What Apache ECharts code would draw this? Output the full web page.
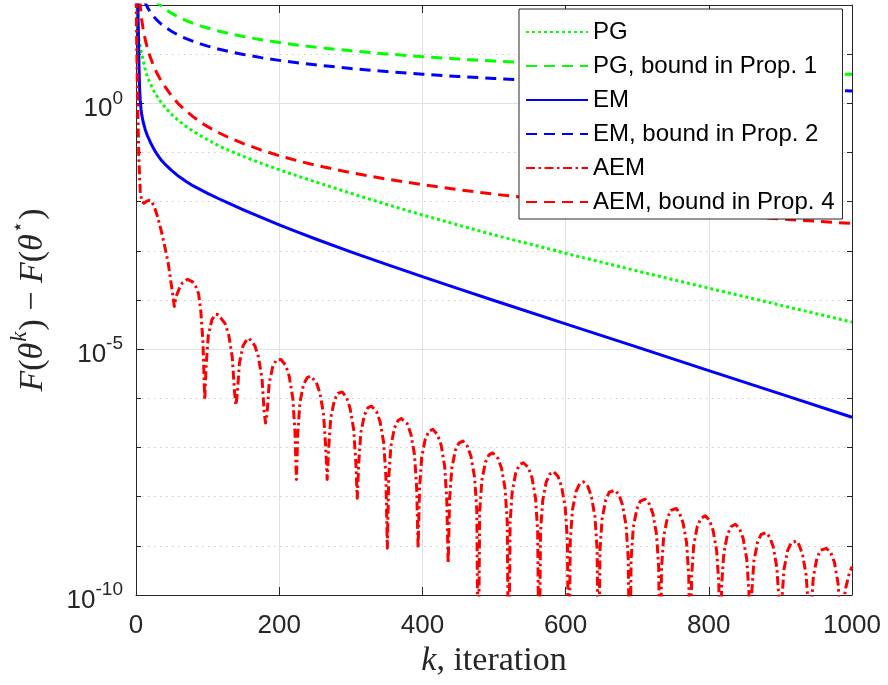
<!DOCTYPE html>
<html>
<head>
<meta charset="utf-8">
<title>Optimality gap versus iteration</title>
<script src="https://cdn.jsdelivr.net/npm/echarts@6/dist/echarts.min.js"></script>
<style>
  html, body { margin: 0; padding: 0; background: #ffffff; }
  #chart { width: 888px; height: 685px; }
</style>
</head>
<body>
<div id="chart"></div>
<script>
// ---- data -------------------------------------------------------------
// iteration numbers used by the smooth curves
const iterK = [1, 2, 3, 4, 5, 6, 7, 8, 10, 13, 16, 20, 25, 30, 35, 40, 50, 60, 70, 80, 90,
  100, 115, 130, 150, 175, 200, 225, 250, 300, 350, 400, 450, 500, 600, 700, 800, 900, 1000];

// proximal gradient: observed gap and theoretical bound
const pgGap = [200, 44.7, 28.2, 20.9, 16.6, 14.1, 12.0, 10.2, 7.59, 4.79, 3.39, 2.51, 1.78,
  1.35, 1.05, 0.851, 0.589, 0.437, 0.339, 0.269, 0.219, 0.182, 0.138, 0.110, 0.0832, 0.0603,
  0.0447, 0.0335, 0.0254, 0.0148, 8.81e-3, 5.37e-3, 3.35e-3, 2.11e-3, 8.91e-4, 3.89e-4,
  1.74e-4, 7.85e-5, 3.55e-5];
const pgBound = [3347, 1674, 1116, 837, 670, 558, 479, 419, 335, 258, 210, 168, 134, 112,
  96.1, 84.2, 67.5, 56.3, 48.3, 42.4, 37.7, 34.0, 29.6, 26.3, 22.8, 19.7, 17.3, 15.4, 13.9,
  11.7, 10.1, 8.9, 8.0, 7.23, 6.12, 5.32, 4.72, 4.26, 3.89];

// EM: observed gap and theoretical bound
const emGap = [1000, 251, 50.1, 7.94, 2.00, 1.12, 0.759, 0.589, 0.417, 0.288, 0.219, 0.162,
  0.117, 0.0891, 0.0708, 0.0589, 0.0427, 0.0324, 0.0257, 0.0209, 0.0176, 0.0148, 0.0116,
  9.23e-3, 6.84e-3, 4.79e-3, 3.39e-3, 2.43e-3, 1.76e-3, 9.55e-4, 5.31e-4, 2.99e-4, 1.70e-4,
  9.77e-5, 3.27e-5, 1.10e-5, 3.67e-6, 1.23e-6, 4.12e-7];
const emBound = [1425, 713, 475, 357, 285, 238, 204, 179, 143, 110, 89.4, 71.6, 57.4, 47.9,
  41.1, 36.0, 28.9, 24.1, 20.7, 18.2, 16.2, 14.6, 12.7, 11.3, 9.86, 8.50, 7.48, 6.69, 6.06,
  5.11, 4.43, 3.92, 3.52, 3.21, 2.73, 2.39, 2.14, 1.94, 1.78];

// accelerated EM: theoretical bound
const aemBound = [3600, 900, 400, 225, 144, 95, 68, 50, 32, 19.5, 13.0, 8.6, 5.6, 3.9, 2.9,
  2.25, 1.40, 0.95, 0.70, 0.53, 0.415, 0.335, 0.255, 0.200, 0.152, 0.112, 0.086, 0.0685,
  0.0553, 0.0388, 0.0288, 0.0222, 0.0176, 0.0142, 0.00993, 0.00732, 0.00562, 0.00445, 0.0036];

// accelerated EM: observed (oscillating) gap
const aemK = [0, 1, 2, 3, 4, 5, 6, 8, 11, 14, 18, 21, 25, 30, 35, 40, 45, 49, 51.5,
  53.5, 56, 60, 65, 72, 79, 84, 87.5, 90.5, 93.5,
  96, 98, 101, 106, 111, 115, 124.5, 129.5, 134.5, 137.5,
  139.5, 141.5, 144.5, 149.5, 154.5, 158, 166, 171, 176, 179,
  181, 183, 186, 191, 196, 202.5, 209, 214, 219, 222,
  224, 226, 229, 234, 239, 244, 252, 257, 262, 265,
  267, 269, 272, 277, 282, 288, 294, 299, 304, 307,
  309, 311, 314, 319, 324, 329, 336, 341, 346, 349,
  351, 353, 356, 361, 366, 370.5, 379, 384, 389, 392,
  394, 396, 399, 404, 409, 414.7, 421, 426, 431, 434,
  436, 438, 441, 446, 451, 456.5, 463, 468, 473, 476,
  478, 480, 483, 488, 493, 498, 505.5, 510.5, 515.5, 518.5,
  520.5, 522.5, 525.5, 530.5, 535.5, 541, 548, 553, 558, 561,
  563, 565, 568, 573, 578, 583.4, 589.5, 594.5, 599.5, 602.5,
  604.5, 606.5, 609.5, 614.5, 619.5, 625, 631, 636, 641, 644,
  646, 648, 651, 656, 661, 669, 674.5, 679.5, 684.5, 687.5,
  689.5, 691.5, 694.5, 699.5, 704.5, 711, 717, 722, 727, 730,
  732, 734, 737, 742, 747, 754.5, 759, 764, 769, 772,
  774, 776, 779, 784, 789, 795, 801, 806, 811, 814,
  816, 818, 821, 826, 831, 837, 843, 848, 853, 856,
  858, 860, 863, 868, 873, 880, 885, 890, 895, 898,
  900, 902, 905, 910, 915, 923, 926, 931, 936, 939,
  941, 943, 946, 951, 956, 964, 970.5, 975.5, 980.5, 983.5,
  985.5, 987.5, 990.5, 995.5, 1000];
const aemGap = [316, 15.8, 2.00, 0.316, 0.0794, 0.0316, 0.0158, 0.0100, 9.33e-3, 1.00e-2,
  1.07e-2, 1.05e-2, 8.32e-3, 5.01e-3, 2.63e-3, 1.26e-3, 5.62e-4, 2.19e-4, 1.26e-4,
  7.41e-5, 1.17e-4, 1.66e-4, 2.24e-4, 2.63e-4, 2.34e-4, 1.82e-4, 1.32e-4, 6.03e-5, 1.41e-5,
  9.12e-7, 4.79e-6, 1.91e-5, 3.98e-5, 5.13e-5, 5.01e-5, 3.31e-5, 1.95e-5, 6.76e-6, 1.41e-6,
  7.24e-7, 1.26e-6, 5.25e-6, 1.17e-5, 1.55e-5, 1.66e-5, 1.17e-5, 6.92e-6, 2.51e-6, 5.25e-7,
  3.16e-7, 4.79e-7, 2.00e-6, 4.47e-6, 6.03e-6, 6.17e-6, 4.68e-6, 2.82e-6, 1.00e-6, 2.14e-7,
  2.24e-8, 2.00e-7, 8.32e-7, 1.91e-6, 2.63e-6, 2.82e-6, 2.09e-6, 1.26e-6, 4.68e-7, 1.00e-7,
  2.24e-8, 9.33e-8, 3.98e-7, 9.12e-7, 1.26e-6, 1.35e-6, 1.05e-6, 6.31e-7, 2.34e-7, 5.01e-8,
  9.33e-9, 4.68e-8, 2.00e-7, 4.57e-7, 6.46e-7, 6.92e-7, 5.37e-7, 3.31e-7, 1.23e-7, 2.63e-8,
  8.91e-10, 2.45e-8, 1.07e-7, 2.51e-7, 3.55e-7, 3.89e-7, 3.02e-7, 1.86e-7, 7.08e-8, 1.51e-8,
  8.91e-10, 1.45e-8, 6.31e-8, 1.48e-7, 2.14e-7, 2.34e-7, 1.82e-7, 1.15e-7, 4.27e-8, 9.12e-9,
  4.37e-10, 8.71e-9, 3.72e-8, 8.71e-8, 1.23e-7, 1.35e-7, 1.05e-7, 6.46e-8, 2.40e-8, 5.25e-9,
  1e-12, 4.90e-9, 2.14e-8, 5.01e-8, 7.08e-8, 7.76e-8, 6.03e-8, 3.80e-8, 1.45e-8, 3.09e-9,
  1e-12, 3.02e-9, 1.29e-8, 3.09e-8, 4.47e-8, 4.90e-8, 3.89e-8, 2.45e-8, 9.33e-9, 2.00e-9,
  1e-12, 1.95e-9, 8.32e-9, 2.00e-8, 2.88e-8, 3.24e-8, 2.57e-8, 1.58e-8, 6.03e-9, 1.29e-9,
  1e-12, 1.23e-9, 5.37e-9, 1.26e-8, 1.82e-8, 2.00e-8, 1.62e-8, 1.02e-8, 3.89e-9, 8.51e-10,
  1e-12, 8.13e-10, 3.55e-9, 8.51e-9, 1.23e-8, 1.35e-8, 1.10e-8, 6.76e-9, 2.57e-9, 5.62e-10,
  1e-12, 5.37e-10, 2.34e-9, 5.62e-9, 8.13e-9, 8.91e-9, 7.08e-9, 4.47e-9, 1.70e-9, 3.72e-10,
  1e-12, 3.55e-10, 1.55e-9, 3.63e-9, 5.25e-9, 5.75e-9, 4.68e-9, 2.95e-9, 1.15e-9, 2.45e-10,
  1e-12, 2.40e-10, 1.05e-9, 2.51e-9, 3.63e-9, 4.07e-9, 3.31e-9, 2.04e-9, 7.94e-10, 1.70e-10,
  1e-12, 1.66e-10, 7.08e-10, 1.70e-9, 2.45e-9, 2.75e-9, 2.24e-9, 1.41e-9, 5.37e-10, 1.15e-10,
  1e-12, 1.12e-10, 4.90e-10, 1.17e-9, 1.70e-9, 1.86e-9, 1.51e-9, 9.55e-10, 3.63e-10, 7.94e-11,
  1e-12, 7.59e-11, 3.31e-10, 7.94e-10, 1.15e-9, 1.26e-9, 1.05e-9, 6.61e-10, 2.51e-10, 5.50e-11,
  1e-12, 5.37e-11, 2.34e-10, 5.62e-10, 8.13e-10, 8.91e-10, 7.24e-10, 4.57e-10, 1.74e-10, 3.80e-11,
  1e-12, 3.98e-11, 1.26e-10, 2.51e-10, 3.80e-10];

// axis ranges and ticks
const xTicks = { min: 0, max: 1000, step: 200 };
const yDecades = { min: -10, max: 2, major: 5 };   // exponents of the log axis

// ---- styling ----------------------------------------------------------
const SANS = '"Liberation Sans", Arial, Helvetica, sans-serif';
const SERIF = '"Liberation Serif", "Times New Roman", serif';
const INK = '#262626';
const GRID_MAJOR = '#e1e1e1';
const GRID_MINOR = '#c9c9c9';
const LW = 3;

const DOTTED = [3, 3];
const DASHED = [11, 7];
const DASHDOT = [9, 3.5, 2.5, 3.5];

function pairs(ks, vs) { return ks.map((k, i) => [k, vs[i]]); }

function lineSeries(name, ks, vs, color, dash) {
  return {
    name: name,
    type: 'line',
    xAxisIndex: 0,
    yAxisIndex: 0,
    data: pairs(ks, vs),
    color: color,
    symbol: 'none',
    showSymbol: false,
    clip: true,
    silent: true,
    z: 2,
    lineStyle: { color: color, width: LW, type: dash, join: 'round' },
    emphasis: { disabled: true }
  };
}

const supLabel = {
  b: { fontFamily: SANS, fontSize: 26, color: INK, verticalAlign: 'top', padding: [11, 0, 0, 0] },
  s: { fontFamily: SANS, fontSize: 19, color: INK, verticalAlign: 'top', padding: [4, 0, 0, 0] }
};

const titleRich = {
  i: { fontFamily: SERIF, fontStyle: 'italic', fontSize: 34, color: INK, verticalAlign: 'top', padding: [8, 0, 0, 0] },
  r: { fontFamily: SERIF, fontSize: 34, color: INK, verticalAlign: 'top', padding: [8, 0, 0, 0] },
  s: { fontFamily: SERIF, fontStyle: 'italic', fontSize: 23, color: INK, verticalAlign: 'top', padding: [0, 1, 0, 1] },
  st: { fontFamily: '"DejaVu Sans", ' + SERIF, fontSize: 20, color: INK, verticalAlign: 'top', padding: [1, 1, 0, 1] }
};

const xTitleRich = {
  i: { fontFamily: SERIF, fontStyle: 'italic', fontSize: 34, color: INK },
  r: { fontFamily: SERIF, fontSize: 34, color: INK }
};

const hidden = { show: false };
const boxLine = { show: true, onZero: false, lineStyle: { color: INK, width: 1 } };
const noLine = { show: false, onZero: false };

const option = {
  animation: false,
  backgroundColor: '#ffffff',
  grid: { left: 135, right: 36, top: 5, bottom: 90, containLabel: false, show: false },
  legend: {
    orient: 'vertical',
    left: 519,
    top: 9,
    padding: [10, 8, 4, 6],
    itemGap: 8,
    itemWidth: 62,
    itemHeight: 26,
    selectedMode: false,
    backgroundColor: '#ffffff',
    borderColor: INK,
    borderWidth: 1,
    borderRadius: 0,
    itemStyle: { opacity: 0, borderWidth: 0 },
    textStyle: { fontFamily: SANS, fontSize: 24, color: '#000000', lineHeight: 26 },
    data: ['PG', 'PG, bound in Prop. 1', 'EM', 'EM, bound in Prop. 2', 'AEM', 'AEM, bound in Prop. 4']
  },
  xAxis: [
    { // bottom axis with tick labels and title
      type: 'value', position: 'bottom', min: xTicks.min, max: xTicks.max, interval: xTicks.step, z: 1,
      axisLine: boxLine,
      axisTick: { show: true, inside: true, length: 8, lineStyle: { color: INK, width: 1 } },
      axisLabel: { show: true, margin: 18, fontFamily: SANS, fontSize: 26, color: INK,
        showMinLabel: true, showMaxLabel: true, formatter: v => String(v) },
      splitLine: hidden,
      name: '{i|k}{r|, iteration}',
      nameLocation: 'middle',
      nameGap: 48,
      nameTextStyle: { rich: xTitleRich }
    },
    { // top edge of the box
      type: 'value', position: 'top', min: xTicks.min, max: xTicks.max, interval: xTicks.step, z: 1,
      axisLine: boxLine,
      axisTick: { show: true, inside: true, length: 8, lineStyle: { color: INK, width: 1 } },
      axisLabel: hidden, splitLine: hidden
    },
    { // vertical grid lines
      type: 'value', position: 'bottom', min: xTicks.min, max: xTicks.max, interval: xTicks.step, z: 0,
      axisLine: noLine, axisTick: hidden, axisLabel: hidden,
      splitLine: { show: true, lineStyle: { color: GRID_MAJOR, width: 1, type: 'solid' } }
    }
  ],
  yAxis: [
    { // logarithmic scale carrying the data
      type: 'log', logBase: 10, min: 1e-10, max: 100, show: false,
      axisLine: noLine, axisTick: hidden, axisLabel: hidden, splitLine: hidden
    },
    { // left edge: decade labels every 10^5 and the title
      type: 'value', position: 'left', min: yDecades.min, max: yDecades.max, interval: yDecades.major, z: 1,
      axisLine: boxLine,
      axisTick: { show: true, inside: true, length: 8, lineStyle: { color: INK, width: 1 } },
      axisLabel: {
        show: true, margin: 13, showMinLabel: true, showMaxLabel: true,
        formatter: v => (v > 0 ? '' : '{b|10}{s|' + v + '}'),
        rich: supLabel
      },
      splitLine: hidden,
      name: '{i|F}{r|(}{i|θ}{s|k}{r|) − }{i|F}{r|(}{i|θ}{st|⋆}{r|)}',
      nameLocation: 'middle',
      nameRotate: 90,
      nameGap: 86,
      nameTextStyle: { rich: titleRich }
    },
    { // left edge: minor ticks at every decade
      type: 'value', position: 'left', min: yDecades.min, max: yDecades.max, interval: 1, z: 1,
      axisLine: noLine,
      axisTick: { show: true, inside: true, length: 5, lineStyle: { color: INK, width: 1 } },
      axisLabel: hidden, splitLine: hidden
    },
    { // right edge of the box
      type: 'value', position: 'right', min: yDecades.min, max: yDecades.max, interval: 1, z: 1,
      axisLine: boxLine,
      axisTick: { show: true, inside: true, length: 5, lineStyle: { color: INK, width: 1 } },
      axisLabel: hidden, splitLine: hidden
    },
    { // solid grid at labelled decades
      type: 'value', position: 'left', min: yDecades.min, max: yDecades.max, interval: yDecades.major, z: 0,
      axisLine: noLine, axisTick: hidden, axisLabel: hidden,
      splitLine: { show: true, lineStyle: { color: GRID_MAJOR, width: 1, type: 'solid' } }
    },
    { // dotted grid at the remaining decades
      type: 'value', position: 'left', min: yDecades.min, max: yDecades.max, interval: 1, z: 0,
      axisLine: noLine, axisTick: hidden, axisLabel: hidden,
      splitLine: { show: true, lineStyle: {
        color: ['rgba(0,0,0,0)', GRID_MINOR, GRID_MINOR, GRID_MINOR, GRID_MINOR],
        width: 1, type: [1.5, 4.5] } }
    }
  ],
  series: [
    lineSeries('PG', iterK, pgGap, '#00ff00', DOTTED),
    lineSeries('PG, bound in Prop. 1', iterK, pgBound, '#00ff00', DASHED),
    lineSeries('EM', iterK, emGap, '#0000ff', 'solid'),
    lineSeries('EM, bound in Prop. 2', iterK, emBound, '#0000ff', DASHED),
    lineSeries('AEM', aemK, aemGap, '#ff0000', DASHDOT),
    lineSeries('AEM, bound in Prop. 4', iterK, aemBound, '#ff0000', DASHED)
  ]
};

const chart = echarts.init(document.getElementById('chart'), null, { renderer: 'canvas' });
chart.setOption(option);
</script>
</body>
</html>
